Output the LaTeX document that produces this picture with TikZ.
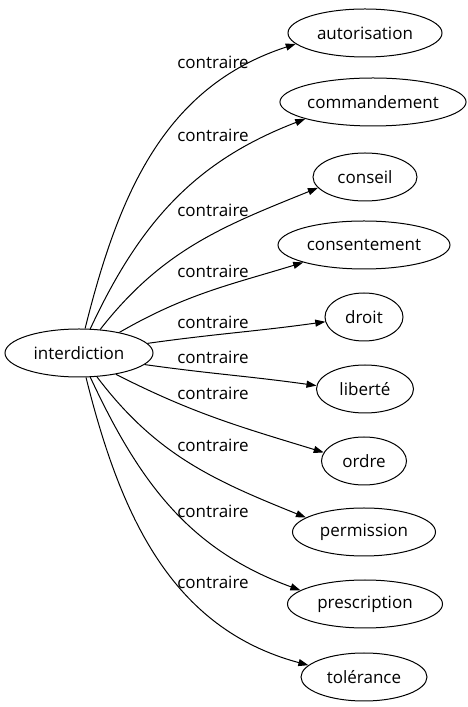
\documentclass[tikz,border=0pt]{standalone}
\usepackage{fontspec}
\setmainfont{Open Sans}
\usetikzlibrary{shapes.geometric,arrows.meta}
\begin{document}
\begin{tikzpicture}[x=1pt,y=1pt,
    word/.style={draw,ellipse,inner sep=0pt,minimum height=48pt,line width=1pt,
      font=\fontsize{17}{20}\selectfont},
    rel/.style={inner sep=0pt,font=\fontsize{17}{20}\selectfont}]
  \useasboundingbox (0,0) rectangle (467,707);
  \draw
    (79,354) node[word,minimum width=148pt] (0){interdiction}
    (365,674) node[word,minimum width=154pt] (1){autorisation}
    (373,605) node[word,minimum width=184pt] (2){commandement}
    (365,530) node[word,minimum width=104pt] (3){conseil}
    (364,462) node[word,minimum width=172pt] (4){consentement}
    (364,390) node[word,minimum width=78pt] (5){droit}
    (365,318) node[word,minimum width=97pt] (6){liberté}
    (364,246) node[word,minimum width=85pt] (7){ordre}
    (364,175) node[word,minimum width=143pt] (8){permission}
    (365,103) node[word,minimum width=155pt] (9){prescription}
    (364,30) node[word,minimum width=126pt] (10){tolérance};
  \draw
    (213,645) node[rel] (l1){contraire}
    (213,572) node[rel] (l2){contraire}
    (213,497) node[rel] (l3){contraire}
    (213,436) node[rel] (l4){contraire}
    (213,385) node[rel] (l5){contraire}
    (213,350) node[rel] (l6){contraire}
    (213,314) node[rel] (l7){contraire}
    (213,262) node[rel] (l8){contraire}
    (213,196) node[rel] (l9){contraire}
    (213,125) node[rel] (l10){contraire};
  \begin{scope}[-{Triangle[length=10pt,width=7pt]},line width=1pt]
    \draw (0.76) to[out=76,in=198] (1.189);
    \draw (0.65) to[out=65,in=201] (2.194);
    \draw (0.48) to[out=52,in=202] (3.193);
    \draw (0.27) to[out=30,in=197] (4.196);
    \draw (0.8) to[out=8,in=188] (5.187);
    \draw (0.-10) to[out=-8,in=172] (6.176);
    \draw (0.-30) to[out=-27,in=163] (7.168);
    \draw (0.-53) to[out=-53,in=158] (8.166);
    \draw (0.-65) to[out=-65,in=160] (9.168);
    \draw (0.-74) to[out=-76,in=165] (10.168);
  \end{scope}
\end{tikzpicture}
\end{document}
